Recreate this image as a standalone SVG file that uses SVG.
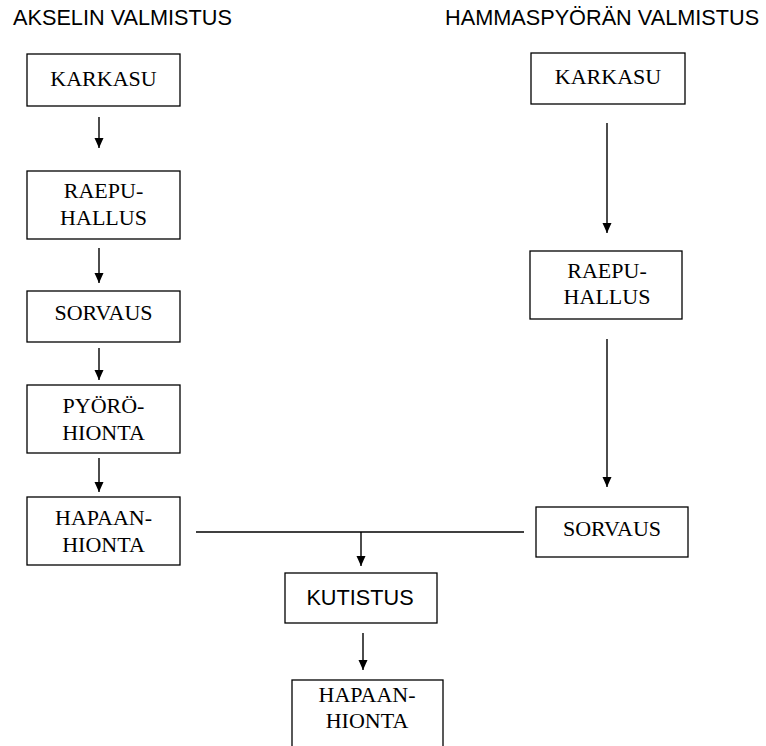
<svg xmlns="http://www.w3.org/2000/svg" width="766" height="746" viewBox="0 0 766 746">
<style>
.box{fill:#fff;stroke:#000;stroke-width:1.3}
.t{font-family:"Liberation Serif","Times New Roman",serif;font-size:22px;fill:#000;text-anchor:middle}
.s{font-family:"Liberation Sans",Arial,sans-serif;font-size:21.7px;fill:#000}
.c{stroke:#000;stroke-width:1.4;fill:none}
.a{marker-end:url(#ah)}
</style>
<defs>
<marker id="ah" markerUnits="userSpaceOnUse" markerWidth="10" markerHeight="10" refX="10" refY="4.5" orient="auto">
<path d="M0,0 L10,4.5 L0,9 z" fill="#000"/>
</marker>
</defs>
<rect width="766" height="746" fill="#fff"/>
<text class="s" x="13" y="25">AKSELIN VALMISTUS</text>
<text class="s" x="445" y="25">HAMMASPYÖRÄN VALMISTUS</text>

<g id="connectors">
<line class="c a" x1="99" y1="117" x2="99" y2="148"/>
<line class="c a" x1="99" y1="248" x2="99" y2="283"/>
<line class="c a" x1="99" y1="348" x2="99" y2="380"/>
<line class="c a" x1="99" y1="458" x2="99" y2="492"/>
<line class="c a" x1="607" y1="123" x2="607" y2="233"/>
<line class="c a" x1="607" y1="339" x2="607" y2="487"/>
<line class="c" x1="196" y1="532" x2="524" y2="532"/>
<line class="c a" x1="361" y1="532" x2="361" y2="566"/>
<line class="c a" x1="363" y1="633" x2="363" y2="670"/>
</g>

<g id="a_karkasu"><rect class="box" x="27" y="54" width="153" height="52"/><text class="t" x="103.5" y="86">KARKASU</text></g>
<g id="a_raepu"><rect class="box" x="27" y="171" width="153" height="68"/><text class="t" x="103.5" y="198">RAEPU-</text><text class="t" x="103.5" y="225">HALLUS</text></g>
<g id="a_sorvaus"><rect class="box" x="27" y="291" width="153" height="51"/><text class="t" x="103.5" y="320">SORVAUS</text></g>
<g id="a_pyoro"><rect class="box" x="27" y="385" width="153" height="68"/><text class="t" x="103.5" y="413">PYÖRÖ-</text><text class="t" x="103.5" y="440">HIONTA</text></g>
<g id="a_hapaan"><rect class="box" x="27" y="497" width="153" height="68"/><text class="t" x="103.5" y="525">HAPAAN-</text><text class="t" x="103.5" y="552">HIONTA</text></g>

<g id="h_karkasu"><rect class="box" x="531" y="53" width="154" height="51"/><text class="t" x="608" y="84">KARKASU</text></g>
<g id="h_raepu"><rect class="box" x="530" y="251" width="152" height="68"/><text class="t" x="607" y="278">RAEPU-</text><text class="t" x="607" y="304">HALLUS</text></g>
<g id="h_sorvaus"><rect class="box" x="536" y="507" width="152" height="50"/><text class="t" x="612" y="536">SORVAUS</text></g>

<g id="kutistus"><rect class="box" x="285" y="573" width="152" height="50"/><text class="s" x="360" y="605" text-anchor="middle">KUTISTUS</text></g>
<g id="hapaan2"><rect class="box" x="292" y="680" width="151" height="80"/><text class="t" x="367" y="702">HAPAAN-</text><text class="t" x="367" y="728">HIONTA</text></g>
</svg>
